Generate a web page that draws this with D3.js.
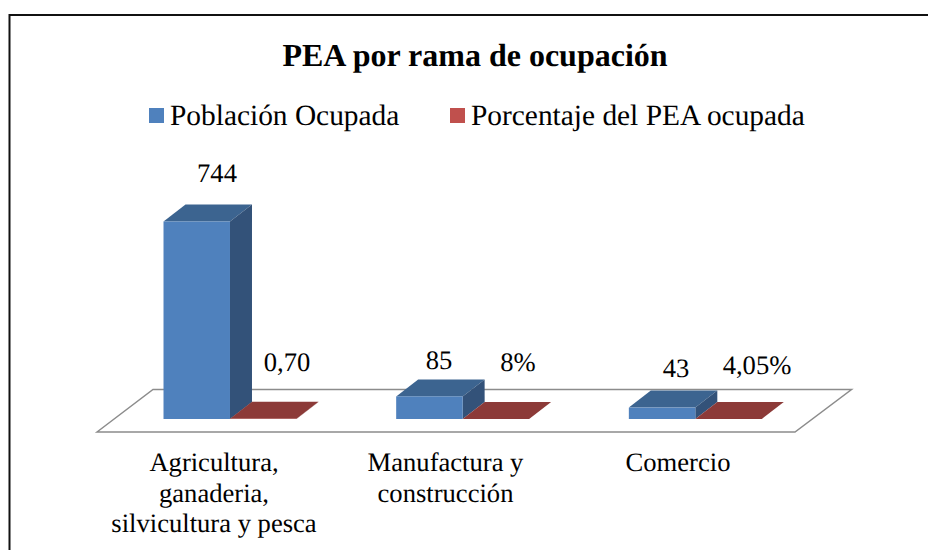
<!DOCTYPE html>
<html><head><meta charset="utf-8">
<script src="https://cdn.jsdelivr.net/npm/d3@7"></script>
<style>html,body{margin:0;padding:0;background:#fff}svg{display:block}text{font-family:"Liberation Serif",serif;fill:#000;text-rendering:geometricPrecision}</style>
</head><body><script>
const categories=[["Agricultura,","ganaderia,","silvicultura y pesca"],["Manufactura y","construcción"],["Comercio"]];
const seriesNames=["Población Ocupada","Porcentaje del PEA ocupada"];
const poblacion=[744,85,43];
const porcentaje=[0.70,0.08,0.0405];
const poblacionLabels=["744","85","43"];
const porcentajeLabels=["0,70","8%","4,05%"];
const W=928,H=550;
const svg=d3.select("body").append("svg").attr("width",W).attr("height",H);
svg.append("path").attr("d",`M9.5,550V15H928`).attr("fill","none").attr("stroke","#111").attr("stroke-width",2);
svg.append("text").attr("x",475).attr("y",66).attr("text-anchor","middle").attr("font-size",32).attr("font-weight","bold").text("PEA por rama de ocupación");
const dx=22,dy=17,baseY=419,floorL=97,floorR=795;
svg.append("path").attr("d",`M${floorL},432L${floorL+56},389.5H${floorR+56.5}L${floorR},432Z`).attr("fill","#fff").attr("stroke","#8c8c8c").attr("stroke-width",1.5);
const x0=d3.scaleBand().domain(d3.range(3)).range([floorL,floorR]);
const x1=d3.scaleBand().domain([0,1]).range([0,x0.bandwidth()]).paddingInner(0).paddingOuter(.75).align(.667);
const y=d3.scaleLinear().domain([0,744]).range([baseY,221.5]);
const colors=[{f:"#4f81bd",t:"#3c6490",s:"#335279"},{f:"#c0504d",t:"#8c3a38",s:"#7a302e"}];
const rows=[poblacion,porcentaje];
rows.forEach((vals,s)=>{
  const g=svg.append("g");
  vals.forEach((v,i)=>{
    const xa=x0(i)+x1(s),w=x1.bandwidth(),yt=y(v);
    const c=colors[s];
    g.append("path").attr("d",`M${xa},${yt}L${xa+dx},${yt-dy}H${xa+w+dx}L${xa+w},${yt}Z`).attr("fill",c.t);
    g.append("path").attr("d",`M${xa+w},${yt}L${xa+w+dx},${yt-dy}V${baseY-dy}L${xa+w},${baseY}Z`).attr("fill",c.s);
    g.append("rect").attr("x",xa).attr("y",yt).attr("width",w).attr("height",baseY-yt).attr("fill",c.f);
  });
});
const dataFont=26.6;
const lab=[[217,182,poblacionLabels[0]],[287,371,porcentajeLabels[0]],[439,369,poblacionLabels[1]],[518,371,porcentajeLabels[1]],[676,377,poblacionLabels[2]],[757,374,porcentajeLabels[2]]];
lab.forEach(d=>svg.append("text").attr("x",d[0]).attr("y",d[1]).attr("text-anchor","middle").attr("font-size",dataFont).text(d[2]));
const catX=[214,445.5,678];
categories.forEach((lines,i)=>{
  lines.forEach((l,j)=>svg.append("text").attr("x",catX[i]).attr("y",471+j*30.5).attr("text-anchor","middle").attr("font-size",dataFont).text(l));
});
const legendX=[149,450];
seriesNames.forEach((n,i)=>{
  svg.append("rect").attr("x",legendX[i]).attr("y",108).attr("width",15).attr("height",15).attr("fill",colors[i].f);
  svg.append("text").attr("x",legendX[i]+21).attr("y",125).attr("font-size",29.4).text(n);
});
</script></body></html>
